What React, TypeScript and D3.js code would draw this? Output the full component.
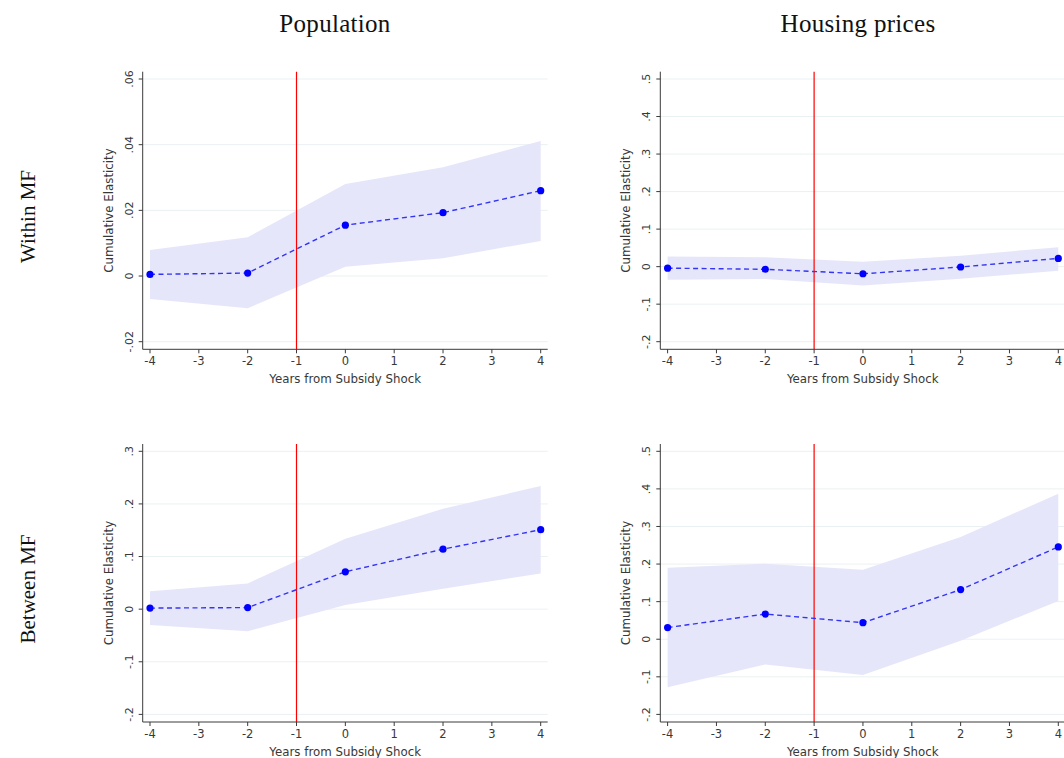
import React from "react";
import * as d3 from "d3";

// Event-study estimates: cumulative elasticity by years from the subsidy shock
const years = [-4, -2, 0, 2, 4];
const xTicks = [-4, -3, -2, -1, 0, 1, 2, 3, 4];
const shockYear = -1;

const colTitles = ["Population", "Housing prices"];
const rowTitles = ["Within MF", "Between MF"];

// Within MF – population
const popWithin = [0.0005, 0.0009, 0.0155, 0.0193, 0.026];
const popWithinLo = [-0.007, -0.0098, 0.0028, 0.0054, 0.0107];
const popWithinHi = [0.0079, 0.0118, 0.028, 0.0331, 0.0411];
const popWithinTicks = [-0.02, 0, 0.02, 0.04, 0.06];

// Within MF – housing prices
const priceWithin = [-0.004, -0.007, -0.019, -0.001, 0.022];
const priceWithinLo = [-0.035, -0.033, -0.05, -0.032, -0.011];
const priceWithinHi = [0.027, 0.025, 0.013, 0.029, 0.052];
const priceWithinTicks = [-0.2, -0.1, 0, 0.1, 0.2, 0.3, 0.4, 0.5];

// Between MF – population
const popBetween = [0.002, 0.003, 0.071, 0.114, 0.151];
const popBetweenLo = [-0.03, -0.042, 0.008, 0.039, 0.068];
const popBetweenHi = [0.034, 0.049, 0.134, 0.191, 0.234];
const popBetweenTicks = [-0.2, -0.1, 0, 0.1, 0.2, 0.3];

// Between MF – housing prices
const priceBetween = [0.031, 0.067, 0.044, 0.132, 0.2455];
const priceBetweenLo = [-0.128, -0.067, -0.095, -0.004, 0.102];
const priceBetweenHi = [0.19, 0.201, 0.185, 0.272, 0.387];
const priceBetweenTicks = [-0.2, -0.1, 0, 0.1, 0.2, 0.3, 0.4, 0.5];

const xTitle = "Years from Subsidy Shock";
const yTitle = "Cumulative Elasticity";

type Panel = {
  est: number[];
  lo: number[];
  hi: number[];
  ticks: number[];
};

const panels: Panel[][] = [
  [
    { est: popWithin, lo: popWithinLo, hi: popWithinHi, ticks: popWithinTicks },
    { est: priceWithin, lo: priceWithinLo, hi: priceWithinHi, ticks: priceWithinTicks },
  ],
  [
    { est: popBetween, lo: popBetweenLo, hi: popBetweenHi, ticks: popBetweenTicks },
    { est: priceBetween, lo: priceBetweenLo, hi: priceBetweenHi, ticks: priceBetweenTicks },
  ],
];

// Stata-style number labels: ".06", "-.2", "0"
const fmt = (v: number) => {
  const r = Math.round(v * 1000) / 1000;
  if (r === 0) return "0";
  return String(r).replace(/^(-?)0\./, "$1.");
};

const SANS = "'DejaVu Sans', Verdana, sans-serif";
const SERIF = "'Liberation Serif', 'Times New Roman', serif";
const AXIS = "#3a3a3a";
const GRID = "#eaf1f2";
const BAND = "#e6e6fb";
const LINE = "#3434f4";
const DOT = "#0000ff";
const TEXT = "#383838";

const colAxisX = [142.7, 660.3];
const colTitleX = [335, 858];
const rowTop = [71.7, 444];
const rowBottom = [349.3, 722];

function PanelChart({ p, axisX, top, bottom }: { p: Panel; axisX: number; top: number; bottom: number }) {
  const right = axisX + 405;
  const x = d3.scaleLinear().domain([-4, 4]).range([axisX + 7.3, axisX + 398]);
  const y = d3
    .scaleLinear()
    .domain([p.ticks[0], p.ticks[p.ticks.length - 1]])
    .range([bottom - 7.6, top + 7.3]);

  const rows = years.map((yr, i) => ({ yr, est: p.est[i], lo: p.lo[i], hi: p.hi[i] }));
  const band = d3
    .area<(typeof rows)[number]>()
    .x((d) => x(d.yr))
    .y0((d) => y(d.lo))
    .y1((d) => y(d.hi))(rows);
  const line = d3
    .line<(typeof rows)[number]>()
    .x((d) => x(d.yr))
    .y((d) => y(d.est))(rows);

  const midY = (top + bottom) / 2;
  const midX = (axisX + right) / 2;

  return (
    <g>
      {/* gridlines */}
      {p.ticks.map((t) => (
        <line key={"g" + t} x1={axisX} x2={right} y1={y(t)} y2={y(t)} stroke={GRID} strokeWidth={1} />
      ))}
      {/* confidence band */}
      <path d={band ?? ""} fill={BAND} stroke="none" />
      {/* shock year marker */}
      <line x1={x(shockYear)} x2={x(shockYear)} y1={top} y2={bottom} stroke="#ff0000" strokeWidth={1.2} />
      {/* point estimates */}
      <path d={line ?? ""} fill="none" stroke={LINE} strokeWidth={1.4} strokeDasharray="5,3.5" />
      {rows.map((d) => (
        <circle key={"c" + d.yr} cx={x(d.yr)} cy={y(d.est)} r={3.6} fill={DOT} />
      ))}
      {/* y axis */}
      <line x1={axisX} x2={axisX} y1={top} y2={bottom} stroke={AXIS} strokeWidth={1} />
      {p.ticks.map((t) => (
        <g key={"yt" + t}>
          <line x1={axisX - 4} x2={axisX} y1={y(t)} y2={y(t)} stroke={AXIS} strokeWidth={1} />
          <text
            transform={`translate(${axisX - 10},${y(t)}) rotate(-90)`}
            textAnchor="middle"
            fontFamily={SANS}
            fontSize={11}
            fill={TEXT}
          >
            {fmt(t)}
          </text>
        </g>
      ))}
      <text
        transform={`translate(${axisX - 30},${midY}) rotate(-90)`}
        textAnchor="middle"
        fontFamily={SANS}
        fontSize={11.8}
        fill={TEXT}
      >
        {yTitle}
      </text>
      {/* x axis */}
      <line x1={axisX} x2={right} y1={bottom} y2={bottom} stroke={AXIS} strokeWidth={1} />
      {xTicks.map((t) => (
        <g key={"xt" + t}>
          <line x1={x(t)} x2={x(t)} y1={bottom} y2={bottom + 4} stroke={AXIS} strokeWidth={1} />
          <text x={x(t)} y={bottom + 16} textAnchor="middle" fontFamily={SANS} fontSize={11.5} fill={TEXT}>
            {t}
          </text>
        </g>
      ))}
      <text x={midX} y={bottom + 34} textAnchor="middle" fontFamily={SANS} fontSize={11.8} fill={TEXT}>
        {xTitle}
      </text>
    </g>
  );
}

export default function App() {
  return (
    <svg
      width={1064}
      height={758}
      style={{ position: "absolute", left: 0, top: 0, background: "#fff" }}
    >
      <rect x={0} y={0} width={1064} height={758} fill="#fff" />
      {colTitles.map((t, c) => (
        <text
          key={t}
          x={colTitleX[c]}
          y={32}
          textAnchor="middle"
          fontFamily={SERIF}
          fontSize={25}
          letterSpacing={0.3}
          fill="#111"
        >
          {t}
        </text>
      ))}
      {rowTitles.map((t, r) => (
        <text
          key={t}
          transform={`translate(35,${(rowTop[r] + rowBottom[r]) / 2 + 6}) rotate(-90)`}
          textAnchor="middle"
          fontFamily={SERIF}
          fontSize={21}
          fill="#111"
        >
          {t}
        </text>
      ))}
      {panels.map((row, r) =>
        row.map((p, c) => (
          <PanelChart key={r + "-" + c} p={p} axisX={colAxisX[c]} top={rowTop[r]} bottom={rowBottom[r]} />
        ))
      )}
    </svg>
  );
}
